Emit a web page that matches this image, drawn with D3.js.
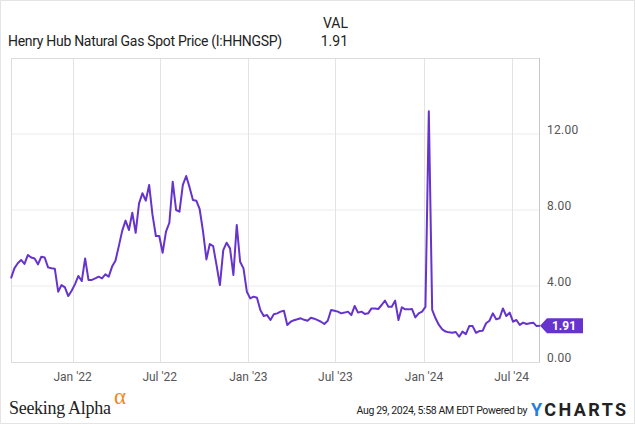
<!DOCTYPE html>
<html lang="en">
<head>
<meta charset="UTF-8">
<title>Henry Hub Natural Gas Spot Price</title>
<script src="https://d3js.org/d3.v7.min.js"></script>
<style>
  body { margin: 0; background: #fff; font-family: Roboto, Arial, sans-serif; }
  svg { display: block; }
</style>
</head>
<body>
<svg width="635" height="424"></svg>
<script>
// weekly spot price readings (USD/MMBtu), starting late Aug 2021
const prices = [
  4.40, 4.93, 5.20, 5.37, 5.16, 5.63, 5.50, 5.45, 5.14, 5.54,
  5.50, 4.98, 4.93, 4.91, 3.70, 4.05, 3.93, 3.47, 3.75, 4.10,
  4.53, 4.26, 5.45, 4.32, 4.32, 4.40, 4.49, 4.40, 4.61, 4.49,
  5.02, 5.33, 6.10, 6.90, 7.44, 6.95, 7.86, 6.80, 8.35, 8.88,
  8.49, 9.32, 7.74, 6.63, 6.63, 5.75, 6.86, 7.33, 9.49, 8.00,
  7.91, 9.32, 9.79, 9.19, 8.53, 8.49, 8.04, 6.86, 5.40, 6.21,
  6.10, 5.10, 4.05, 5.89, 6.28, 5.98, 4.58, 7.21, 5.28, 4.93,
  3.70, 3.35, 3.44, 3.38, 2.74, 2.42, 2.47, 2.21, 2.51, 2.56,
  2.65, 2.70, 1.95, 2.12, 2.20, 2.25, 2.30, 2.22, 2.17, 2.33,
  2.28, 2.20, 2.12, 2.00, 2.17, 2.74, 2.70, 2.65, 2.56, 2.60,
  2.65, 2.47, 2.95, 2.60, 2.65, 2.53, 2.56, 2.82, 2.82, 2.79,
  3.00, 3.23, 2.91, 2.91, 3.23, 2.21, 2.88, 2.77, 2.77, 2.79,
  2.35, 2.56, 2.65, 2.90, 13.20, 2.74, 2.30, 1.95, 1.72, 1.60,
  1.56, 1.54, 1.58, 1.33, 1.60, 1.47, 1.89, 1.89, 1.54, 1.63,
  1.65, 2.04, 2.17, 2.56, 2.25, 2.30, 2.82, 2.42, 2.60, 2.12,
  2.21, 1.95, 2.07, 2.00, 2.04, 2.07, 1.89, 1.91
];
const startDate = new Date(2021, 7, 26);
const endDate = new Date(2024, 7, 29);
const yTicks = [0, 4, 8, 12];
const xTicks = [new Date(2022, 0, 1), new Date(2022, 6, 1), new Date(2023, 0, 1),
                new Date(2023, 6, 1), new Date(2024, 0, 1), new Date(2024, 6, 1)];
const xTickLabels = ["Jan '22", "Jul '22", "Jan '23", "Jul '23", "Jan '24", "Jul '24"];
const seriesName = "Henry Hub Natural Gas Spot Price (I:HHNGSP)";
const lastValue = 1.91;

const data = prices.map((v, i) => ({ date: d3.timeDay.offset(startDate, i * 7), value: v }));

const svg = d3.select("svg");
const plotLeft = 11, plotRight = 540, plotTop = 58, plotBottom = 362;
const purple = "#6633cc";

// outer frame
svg.append("rect")
  .attr("x", 0.5).attr("y", 0.5).attr("width", 634).attr("height", 423)
  .attr("fill", "none").attr("stroke", "#e4e4e4");

const x = d3.scaleTime().domain([startDate, endDate]).range([plotLeft, plotRight]);
const y = d3.scaleLinear().domain([0, 16]).range([plotBottom, plotTop]);

// grid
svg.append("g")
  .selectAll("line")
  .data(yTicks.filter(d => d > 0))
  .enter().append("line")
  .attr("x1", plotLeft).attr("x2", plotRight)
  .attr("y1", d => y(d)).attr("y2", d => y(d))
  .attr("stroke", "#ebebeb").attr("stroke-width", 1.2);

svg.append("g")
  .selectAll("line")
  .data(xTicks)
  .enter().append("line")
  .attr("x1", d => Math.round(x(d)) + 0.5).attr("x2", d => Math.round(x(d)) + 0.5)
  .attr("y1", plotTop).attr("y2", plotBottom)
  .attr("stroke", "#e3e3e3");

// plot frame
svg.append("rect")
  .attr("x", plotLeft + 0.5).attr("y", plotTop + 0.5)
  .attr("width", plotRight - plotLeft - 1).attr("height", plotBottom - plotTop)
  .attr("fill", "none").attr("stroke", "#dcdcdc");
svg.append("line")
  .attr("x1", plotRight - 0.5).attr("x2", plotRight - 0.5)
  .attr("y1", plotTop).attr("y2", plotBottom)
  .attr("stroke", "#c8c8c8");

// y axis labels (right)
svg.append("g")
  .selectAll("text")
  .data(yTicks)
  .enter().append("text")
  .attr("x", 547).attr("y", d => y(d) - 0.5)
  .attr("font-size", 12).attr("fill", "#555")
  .attr("letter-spacing", "0.3")
  .text(d => d3.format(".2f")(d));

// x axis labels
svg.append("g")
  .selectAll("text")
  .data(xTicks)
  .enter().append("text")
  .attr("x", d => x(d)).attr("y", 381)
  .attr("text-anchor", "middle")
  .attr("font-size", 12).attr("fill", "#555")
  .text((d, i) => xTickLabels[i]);

// line
const line = d3.line().x(d => x(d.date)).y(d => y(d.value));
svg.append("path")
  .datum(data)
  .attr("d", line)
  .attr("fill", "none")
  .attr("stroke", purple)
  .attr("stroke-width", 2)
  .attr("stroke-linejoin", "round");

// last value badge
const yv = y(lastValue);
svg.append("path")
  .attr("d", `M${plotRight},${yv} L${plotRight + 7},${yv - 7.5} H583 V${yv + 7.5} H${plotRight + 7} Z`)
  .attr("fill", purple);
svg.append("text")
  .attr("x", 564).attr("y", yv + 4.3)
  .attr("text-anchor", "middle")
  .attr("font-size", 12).attr("font-weight", "bold").attr("fill", "#fff")
  .text(d3.format(".2f")(lastValue));

// header
svg.append("text")
  .attr("x", 8).attr("y", 46)
  .attr("font-size", 14).attr("fill", "#222")
  .attr("letter-spacing", "-0.3")
  .text(seriesName);
svg.append("text")
  .attr("x", 348).attr("y", 28).attr("text-anchor", "end")
  .attr("font-size", 14).attr("fill", "#222")
  .text("VAL");
svg.append("text")
  .attr("x", 348).attr("y", 46).attr("text-anchor", "end")
  .attr("font-size", 14).attr("fill", "#222")
  .text(d3.format(".2f")(lastValue));

// footer
svg.append("text")
  .attr("x", 9).attr("y", 414)
  .attr("font-family", "'Liberation Serif', 'DejaVu Serif', serif")
  .attr("font-size", 18).attr("fill", "#222")
  .attr("letter-spacing", "-0.3")
  .text("Seeking Alpha");
svg.append("text")
  .attr("x", 114).attr("y", 404)
  .attr("font-family", "'Liberation Serif', serif")
  .attr("font-size", 23).attr("fill", "#f08a24")
  .text("α");

svg.append("text")
  .attr("x", 527).attr("y", 414).attr("text-anchor", "end")
  .attr("font-size", 10.5).attr("fill", "#222")
  .attr("letter-spacing", "-0.35")
  .text("Aug 29, 2024, 5:58 AM EDT Powered by");
const yc = svg.append("text")
  .attr("x", 531).attr("y", 416)
  .attr("font-size", 18).attr("font-weight", "bold")
  .attr("letter-spacing", "2.4").attr("fill", "#222");
yc.append("tspan").attr("fill", "#1e7fe0").text("Y");
yc.append("tspan").text("CHARTS");
</script>
</body>
</html>
